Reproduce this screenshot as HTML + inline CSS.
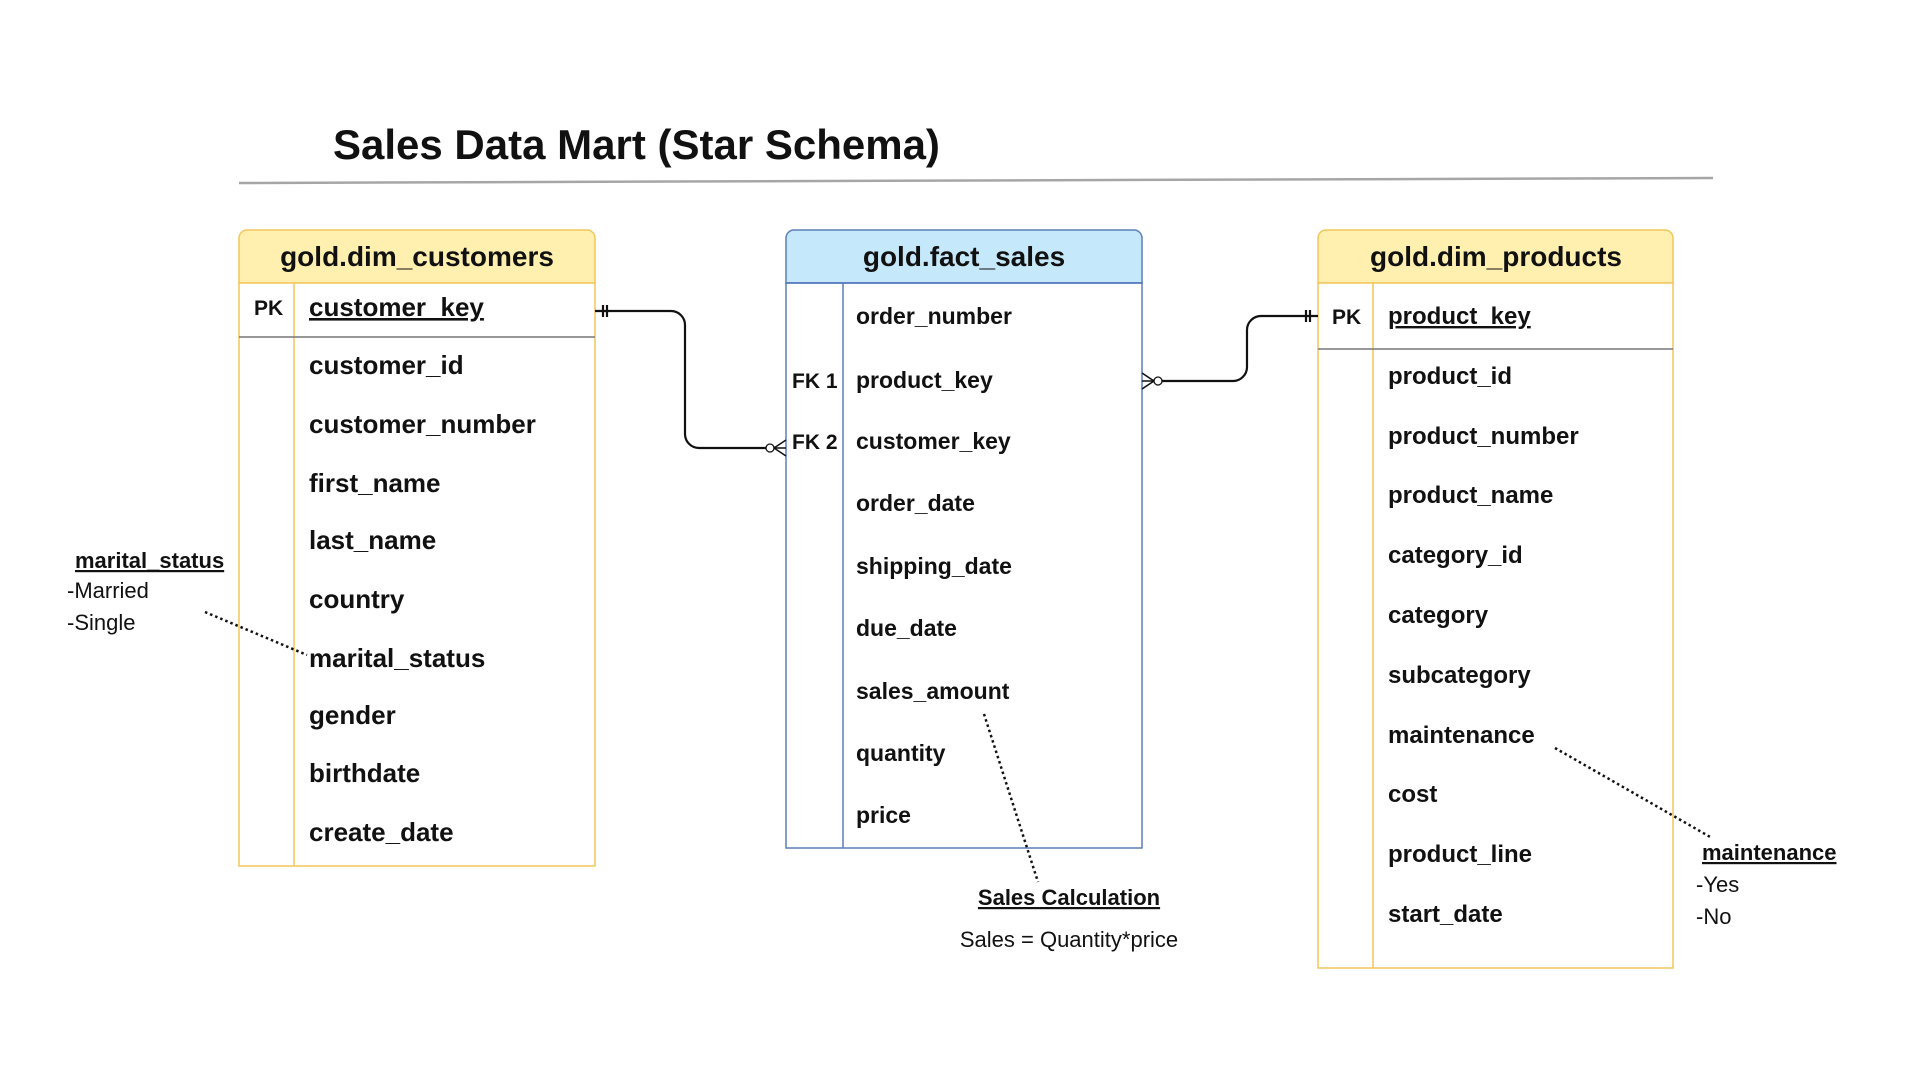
<!DOCTYPE html>
<html><head><meta charset="utf-8"><style>
html,body{margin:0;padding:0;background:#fff;}
svg{display:block;}
text{font-family:"Liberation Sans",sans-serif;fill:#111;}
.b{font-weight:bold;}
</style></head><body>
<svg width="1920" height="1080" viewBox="0 0 1920 1080" xmlns="http://www.w3.org/2000/svg">
<text x="333" y="159" class="b" font-size="42">Sales Data Mart (Star Schema)</text>
<line x1="239" y1="183" x2="1713" y2="178" stroke="#a6a6a6" stroke-width="2.5"/>

<!-- customers -->
<path d="M239,283 V238 a8,8 0 0 1 8,-8 H587 a8,8 0 0 1 8,8 V283 Z" fill="#fff0b0" stroke="#f2c65c" stroke-width="1.5"/>
<rect x="239" y="283" width="356" height="583" fill="#fff" stroke="#f2c65c" stroke-width="1.5"/>
<line x1="294" y1="283" x2="294" y2="866" stroke="#f2c65c" stroke-width="1.5"/>
<line x1="239" y1="337" x2="595" y2="337" stroke="#777" stroke-width="1.5"/>
<text x="417" y="266" class="b" font-size="28" text-anchor="middle">gold.dim_customers</text>
<text x="254" y="315" class="b" font-size="21">PK</text>
<g class="b" font-size="26">
<text x="309" y="316" text-decoration="underline">customer_key</text>
<text x="309" y="374">customer_id</text>
<text x="309" y="433">customer_number</text>
<text x="309" y="492">first_name</text>
<text x="309" y="549">last_name</text>
<text x="309" y="608">country</text>
<text x="309" y="667">marital_status</text>
<text x="309" y="724">gender</text>
<text x="309" y="782">birthdate</text>
<text x="309" y="841">create_date</text>
</g>

<!-- fact -->
<path d="M786,283 V238 a8,8 0 0 1 8,-8 H1134 a8,8 0 0 1 8,8 V283 Z" fill="#c6e8fb" stroke="#5b7fb5" stroke-width="1.5"/>
<rect x="786" y="283" width="356" height="565" fill="#fff" stroke="#5b7fb5" stroke-width="1.5"/>
<line x1="843" y1="283" x2="843" y2="848" stroke="#5b7fb5" stroke-width="1.5"/>
<line x1="786" y1="283" x2="1142" y2="283" stroke="#5578c0" stroke-width="1.5"/>
<text x="964" y="266" class="b" font-size="28" text-anchor="middle">gold.fact_sales</text>
<text x="792" y="388" class="b" font-size="21">FK 1</text>
<text x="792" y="449" class="b" font-size="21">FK 2</text>
<g class="b" font-size="23">
<text x="856" y="324">order_number</text>
<text x="856" y="388">product_key</text>
<text x="856" y="449">customer_key</text>
<text x="856" y="511">order_date</text>
<text x="856" y="574">shipping_date</text>
<text x="856" y="636">due_date</text>
<text x="856" y="699">sales_amount</text>
<text x="856" y="761">quantity</text>
<text x="856" y="823">price</text>
</g>

<!-- products -->
<path d="M1318,283 V238 a8,8 0 0 1 8,-8 H1665 a8,8 0 0 1 8,8 V283 Z" fill="#fff0b0" stroke="#f2c65c" stroke-width="1.5"/>
<rect x="1318" y="283" width="355" height="685" fill="#fff" stroke="#f2c65c" stroke-width="1.5"/>
<line x1="1373" y1="283" x2="1373" y2="968" stroke="#f2c65c" stroke-width="1.5"/>
<line x1="1318" y1="349" x2="1673" y2="349" stroke="#777" stroke-width="1.5"/>
<text x="1496" y="266" class="b" font-size="28" text-anchor="middle">gold.dim_products</text>
<text x="1332" y="324" class="b" font-size="21">PK</text>
<g class="b" font-size="24">
<text x="1388" y="324" text-decoration="underline">product_key</text>
<text x="1388" y="384">product_id</text>
<text x="1388" y="444">product_number</text>
<text x="1388" y="503">product_name</text>
<text x="1388" y="563">category_id</text>
<text x="1388" y="623">category</text>
<text x="1388" y="683">subcategory</text>
<text x="1388" y="743">maintenance</text>
<text x="1388" y="802">cost</text>
<text x="1388" y="862">product_line</text>
<text x="1388" y="922">start_date</text>
</g>

<!-- connectors -->
<g fill="none" stroke="#111" stroke-width="2.2">
<path d="M595,311 H671 a14,14 0 0 1 14,14 V434 a14,14 0 0 0 14,14 H766"/>
<line x1="603" y1="305" x2="603" y2="317"/><line x1="607" y1="305" x2="607" y2="317"/>
<path d="M786,440 L774,448 L786,456" stroke-width="1.5"/>
<line x1="774" y1="448" x2="786" y2="448" stroke-width="1.5"/>
<path d="M1162,381 H1233 a14,14 0 0 0 14,-14 V330 a14,14 0 0 1 14,-14 H1318"/>
<line x1="1306" y1="310" x2="1306" y2="322"/><line x1="1310" y1="310" x2="1310" y2="322"/>
<path d="M1142,373 L1154,381 L1142,389" stroke-width="1.5"/>
<line x1="1142" y1="381" x2="1154" y2="381" stroke-width="1.5"/>
</g>
<circle cx="770" cy="448" r="4" fill="#fff" stroke="#111" stroke-width="1.3"/>
<circle cx="1158" cy="381" r="4" fill="#fff" stroke="#111" stroke-width="1.3"/>

<!-- annotations -->
<g stroke="#111" stroke-width="2.5" stroke-dasharray="2.5,3" fill="none">
<line x1="205" y1="612" x2="307" y2="655"/>
<line x1="984" y1="714" x2="1038" y2="882"/>
<line x1="1555" y1="748" x2="1712" y2="838"/>
</g>
<text x="75" y="568" class="b" font-size="22" text-decoration="underline">marital_status</text>
<text x="67" y="598" font-size="22">-Married</text>
<text x="67" y="630" font-size="22">-Single</text>
<text x="1069" y="905" class="b" font-size="22" text-anchor="middle" text-decoration="underline">Sales Calculation</text>
<text x="1069" y="947" font-size="22" text-anchor="middle">Sales = Quantity*price</text>
<text x="1702" y="860" class="b" font-size="22" text-decoration="underline">maintenance</text>
<text x="1696" y="892" font-size="22">-Yes</text>
<text x="1696" y="924" font-size="22">-No</text>
</svg>
</body></html>
